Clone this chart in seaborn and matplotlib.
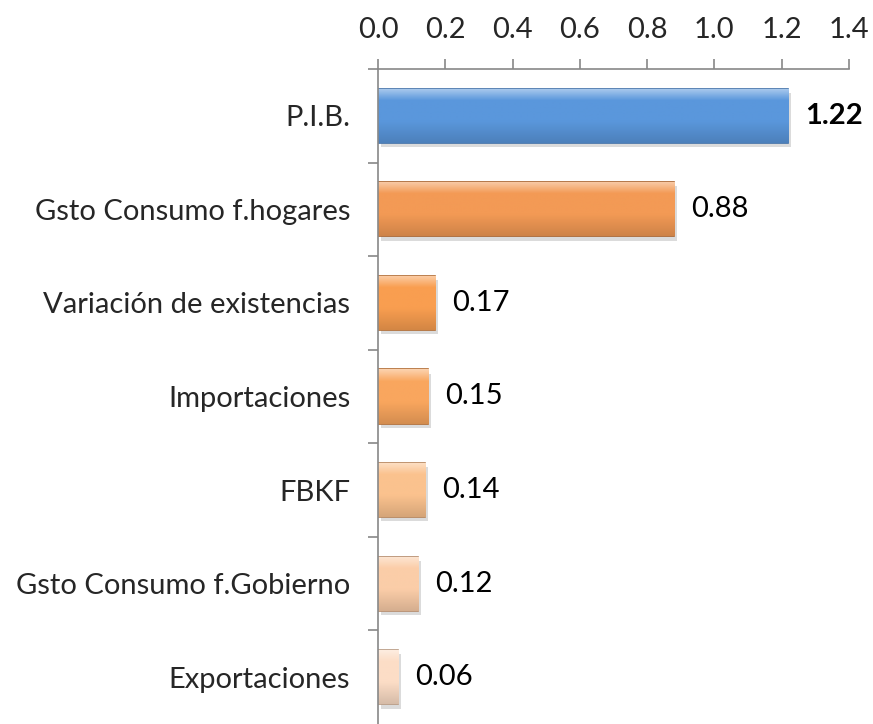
import numpy as np
import pandas as pd
import matplotlib
matplotlib.use("Agg")
import matplotlib.pyplot as plt
import matplotlib.colors as mcolors
import matplotlib.patheffects as pe
import seaborn as sns

# datos del gráfico
categorias = ['P.I.B.', 'Gsto Consumo f.hogares', 'Variación de existencias',
              'Importaciones', 'FBKF', 'Gsto Consumo f.Gobierno', 'Exportaciones']
valores = [1.22, 0.88, 0.17, 0.15, 0.14, 0.12, 0.06]
etiquetas = ['1.22', '0.88', '0.17', '0.15', '0.14', '0.12', '0.06']
colores = ['#5A97DC', '#F39A55', '#F99E50', '#F9A65E', '#FBC28E', '#FBCDA8', '#FCDDC6']
bordes = ['#3F6FA8', '#A8602A', '#B06A30', '#B06A30', '#B58256', '#B58A6A', '#B89880']

sns.set_theme(style='white')
plt.rcParams['font.family'] = ['Lato', 'DejaVu Sans']

datos = pd.DataFrame({'categoria': categorias, 'valor': valores})

fig = plt.figure(figsize=(8.73, 7.24), dpi=100)
ax = fig.add_axes([0.433, 0.0, 0.5395, 0.9047])

sns.barplot(data=datos, y='categoria', x='valor', hue='categoria',
            palette=colores, orient='h', width=0.58, legend=False, ax=ax)

# degradado y borde tipo bisel
for i, barra in enumerate(ax.patches):
    barra.set_edgecolor(bordes[i])
    barra.set_linewidth(1.2)
    barra.set_path_effects([pe.SimplePatchShadow(offset=(2, -3), shadow_rgbFace='#999999', alpha=0.35),
                            pe.Normal()])
    x0, y0 = barra.get_x(), barra.get_y()
    w, h = barra.get_width(), barra.get_height()
    base = np.array(mcolors.to_rgb(colores[i]))
    claro = base + (1 - base) * 0.5
    oscuro = base * 0.85
    t = np.linspace(0, 1, 64)[:, None]
    grad = np.where(t < 0.22, claro + (base - claro) * (t / 0.22),
                    base + (oscuro - base) * np.clip((t - 0.6) / 0.4, 0, 1))
    img = grad[:, None, :]
    im = ax.imshow(img, extent=[x0, x0 + w, y0 + h, y0], aspect='auto',
                   zorder=barra.get_zorder(), interpolation='bilinear')
    im.set_clip_path(barra)

ax.set_xlim(0, 1.4)
ax.set_ylim(6.5, -0.5)
ax.set_xticks(np.arange(0, 1.41, 0.2))
ax.set_xticklabels([f'{v:.1f}' for v in np.arange(0, 1.41, 0.2)])
ax.xaxis.tick_top()
ax.set_xlabel('')
ax.set_ylabel('')

# marcas del eje y en los límites de categoría
ax.set_yticks(np.arange(7))
ax.set_yticklabels(categorias)
ax.set_yticks(np.arange(-0.5, 6.5, 1), minor=True)
ax.tick_params(axis='y', which='major', length=0, pad=20, labelsize=21)
ax.tick_params(axis='y', which='minor', length=7, width=1.2, color='#888888', left=True)
ax.tick_params(axis='x', length=7, width=1.2, color='#888888', labelsize=21, pad=12, top=True)

for lado in ['right', 'bottom']:
    ax.spines[lado].set_visible(False)
for lado in ['left', 'top']:
    ax.spines[lado].set_color('#888888')
    ax.spines[lado].set_linewidth(1.2)

for i, (v, t) in enumerate(zip(valores, etiquetas)):
    ax.annotate(t, (v, i), xytext=(12, 0), textcoords='offset points',
                va='center', ha='left', fontsize=21,
                fontweight='bold' if i == 0 else 'normal', color='black')

fig.savefig('out.png', dpi=100)
